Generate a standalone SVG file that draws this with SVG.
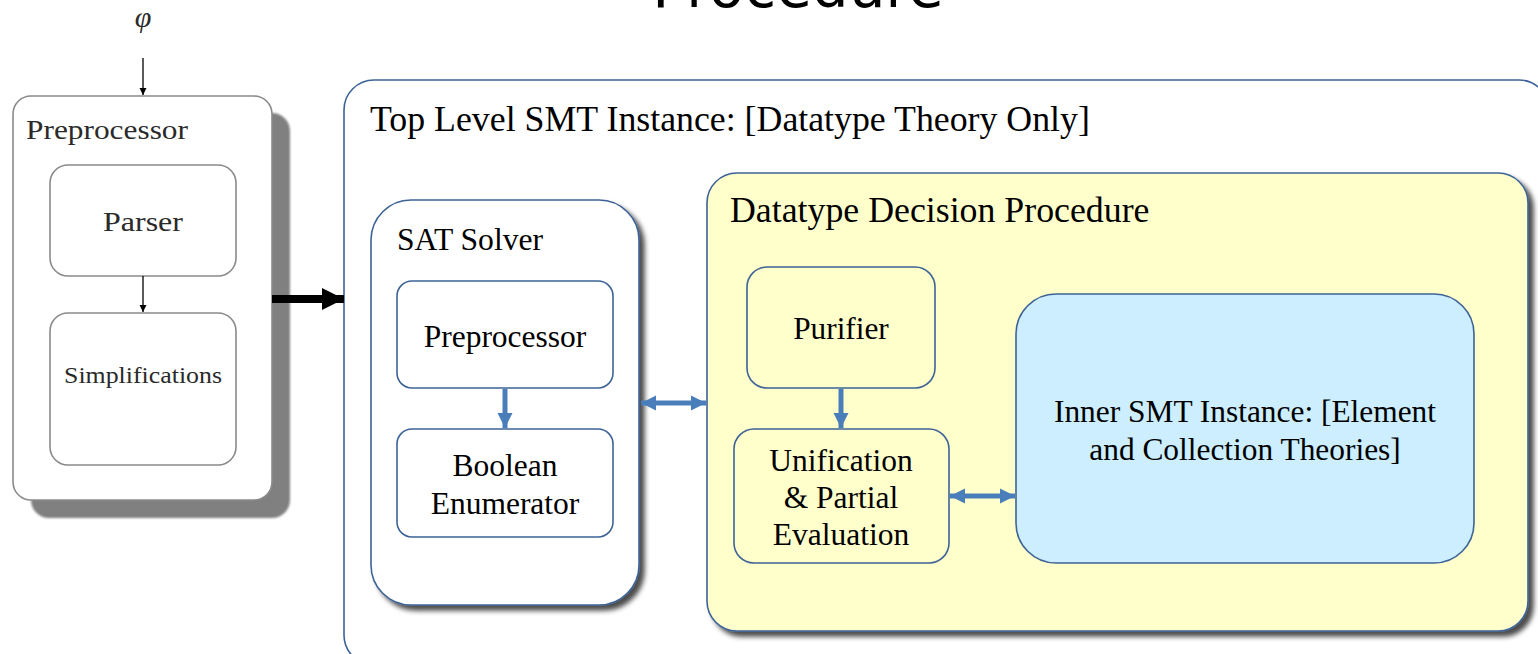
<svg xmlns="http://www.w3.org/2000/svg" width="1538" height="654" viewBox="0 0 1538 654">
  <style>
    .serif { font-family: "Liberation Serif", "Times New Roman", serif; fill: #000; }
    .lm { font-family: "Liberation Serif", "DejaVu Serif", serif; fill: #2a2a2a; }
    .gbox { fill: #fff; stroke: #8a8a8a; stroke-width: 1.6; }
    .bbox { stroke: #3d6396; stroke-width: 1.6; }
    .blue { stroke: #4a7ebb; stroke-width: 5; fill: none; }
  </style>
  <defs>
    <filter id="shadow" x="-10%" y="-10%" width="130%" height="130%">
      <feDropShadow dx="5" dy="5" stdDeviation="2.5" flood-color="#000" flood-opacity="0.7"/>
    </filter>
    <filter id="soft" x="-10%" y="-10%" width="130%" height="130%">
      <feGaussianBlur stdDeviation="1"/>
    </filter>
    <marker id="blk" viewBox="0 0 10 10" refX="10" refY="5" markerWidth="7" markerHeight="9" markerUnits="userSpaceOnUse" orient="auto">
      <path d="M0,0 L10,5 L0,10 Z" fill="#000"/>
    </marker>
    <marker id="blkBig" viewBox="0 0 10 10" refX="10" refY="5" markerWidth="22" markerHeight="22" markerUnits="userSpaceOnUse" orient="auto">
      <path d="M0,0 L10,5 L0,10 Z" fill="#000"/>
    </marker>
    <marker id="bl" viewBox="0 0 10 10" refX="10" refY="5" markerWidth="15" markerHeight="16" markerUnits="userSpaceOnUse" orient="auto-start-reverse">
      <path d="M0,0 L10,5 L0,10 Z" fill="#4a7ebb"/>
    </marker>
  </defs>

  <!-- heading, partly above the top edge -->
  <text x="798" y="7" font-family="DejaVu Sans, sans-serif" font-size="58" text-anchor="middle" fill="#000">Procedure</text>

  <!-- input formula -->
  <text x="143" y="27" class="lm" font-size="30" font-style="italic" text-anchor="middle">φ</text>

  <!-- front-end: preprocessor stage -->
  <g id="frontend">
    <rect x="31" y="113" width="259" height="405" rx="18" fill="#808080" filter="url(#soft)"/>
    <rect x="13" y="96" width="259" height="404" rx="18" class="gbox"/>
    <text x="26" y="139" class="lm" font-size="28" textLength="162" lengthAdjust="spacingAndGlyphs">Preprocessor</text>
  </g>
  <g id="parser">
    <rect x="50" y="165" width="186" height="111" rx="18" class="gbox"/>
    <text x="143" y="231" class="lm" font-size="28" text-anchor="middle" textLength="80" lengthAdjust="spacingAndGlyphs">Parser</text>
  </g>
  <g id="simplifications">
    <rect x="50" y="313" width="186" height="152" rx="18" class="gbox"/>
    <text x="143" y="383" class="lm" font-size="24" text-anchor="middle" textLength="158" lengthAdjust="spacingAndGlyphs">Simplifications</text>
  </g>

  <!-- top level SMT instance -->
  <g id="toplevel">
    <rect x="344" y="80" width="1205" height="585" rx="30" fill="#fff" class="bbox"/>
    <text x="370" y="131" class="serif" font-size="35.8">Top Level SMT Instance: [Datatype Theory Only]</text>
  </g>

  <g id="satsolver">
    <rect x="371" y="200" width="268" height="405" rx="40" fill="#fff" class="bbox" filter="url(#shadow)"/>
    <text x="397" y="250" class="serif" font-size="31.6">SAT Solver</text>
  </g>
  <g id="satpre">
    <rect x="397" y="281" width="216" height="107" rx="15" fill="#fff" class="bbox"/>
    <text x="505" y="347" class="serif" font-size="31.5" text-anchor="middle">Preprocessor</text>
  </g>
  <g id="boolenum">
    <rect x="397" y="429" width="216" height="108" rx="15" fill="#fff" class="bbox"/>
    <text x="505" y="476" class="serif" font-size="31.5" text-anchor="middle">Boolean</text>
    <text x="505" y="514" class="serif" font-size="31.5" text-anchor="middle">Enumerator</text>
  </g>

  <g id="datatype">
    <rect x="707" y="173" width="821" height="458" rx="30" fill="#ffffcc" class="bbox" filter="url(#shadow)"/>
    <text x="730" y="222" class="serif" font-size="35.8">Datatype Decision Procedure</text>
  </g>
  <g id="purifier">
    <rect x="747" y="267" width="188" height="121" rx="20" fill="#ffffcc" class="bbox"/>
    <text x="841" y="339" class="serif" font-size="31.3" text-anchor="middle">Purifier</text>
  </g>
  <g id="unification">
    <rect x="734" y="429" width="215" height="134" rx="20" fill="#ffffcc" class="bbox"/>
    <text x="841" y="471" class="serif" font-size="31.5" text-anchor="middle">Unification</text>
    <text x="841" y="508" class="serif" font-size="31.5" text-anchor="middle">&amp; Partial</text>
    <text x="841" y="545" class="serif" font-size="31.5" text-anchor="middle">Evaluation</text>
  </g>
  <g id="inner">
    <rect x="1016" y="294" width="458" height="269" rx="40" fill="#cceeff" class="bbox"/>
    <text x="1245" y="422" class="serif" font-size="31.4" text-anchor="middle">Inner SMT Instance: [Element</text>
    <text x="1245" y="460" class="serif" font-size="31.4" text-anchor="middle">and Collection Theories]</text>
  </g>

  <!-- connectors -->
  <g id="connectors">
    <line x1="143" y1="58" x2="143" y2="95" stroke="#000" stroke-width="1.3" marker-end="url(#blk)"/>
    <line x1="143" y1="276" x2="143" y2="312" stroke="#000" stroke-width="1.3" marker-end="url(#blk)"/>
    <line x1="272" y1="299" x2="344" y2="299" stroke="#000" stroke-width="8" marker-end="url(#blkBig)"/>
    <line x1="505" y1="389" x2="505" y2="428" class="blue" marker-end="url(#bl)"/>
    <line x1="841" y1="389" x2="841" y2="428" class="blue" marker-end="url(#bl)"/>
    <line x1="641" y1="403" x2="706" y2="403" class="blue" marker-start="url(#bl)" marker-end="url(#bl)"/>
    <line x1="950" y1="496" x2="1015" y2="496" class="blue" marker-start="url(#bl)" marker-end="url(#bl)"/>
  </g>
</svg>
